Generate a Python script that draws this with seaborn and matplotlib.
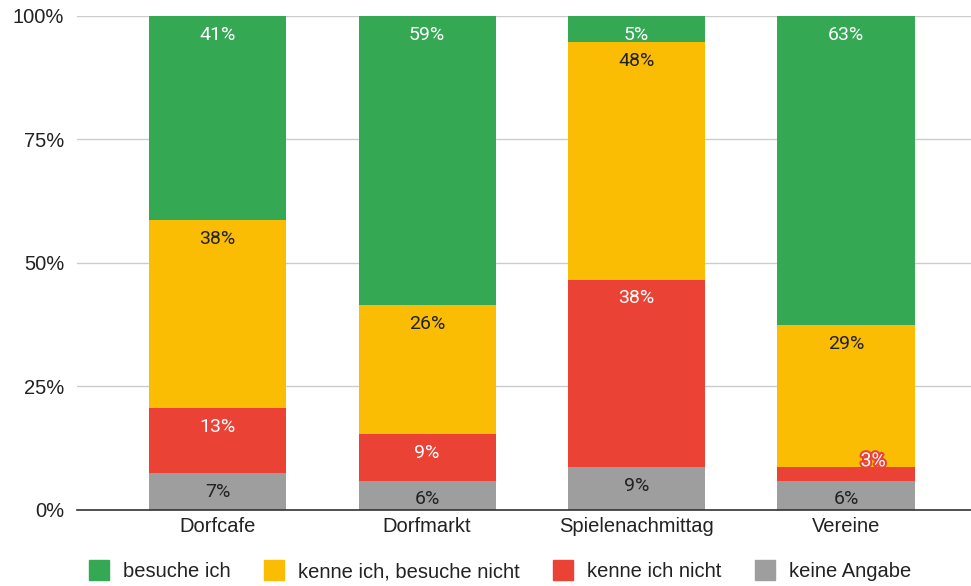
import matplotlib.pyplot as plt
import matplotlib.patheffects as pe
from matplotlib.lines import Line2D
import numpy as np
import seaborn as sns

# Data (percent of respondents per offer)
categories = ["Dorfcafe", "Dorfmarkt", "Spielenachmittag", "Vereine"]
series = ["besuche ich", "kenne ich, besuche nicht", "kenne ich nicht", "keine Angabe"]
besuche_ich = [41.4, 58.6, 5.4, 62.6]
kenne_besuche_nicht = [38.0, 26.1, 48.0, 28.7]
kenne_nicht = [13.2, 9.4, 37.9, 2.8]
keine_angabe = [7.4, 5.9, 8.7, 5.9]
y_ticks = [0, 25, 50, 75, 100]

colors = {"besuche ich": "#34a853", "kenne ich, besuche nicht": "#fbbc04",
          "kenne ich nicht": "#ea4335", "keine Angabe": "#9e9e9e"}
label_colors = {"besuche ich": "white", "kenne ich, besuche nicht": "#222222",
                "kenne ich nicht": "white", "keine Angabe": "#222222"}

sns.set_style("white")
plt.rcParams['font.family'] = ['Liberation Sans', 'DejaVu Sans']

fig = plt.figure(figsize=(9.71, 5.86), dpi=100)
ax = fig.add_axes([0.079, 0.130, 0.921, 0.843])

# stacking from bottom: keine Angabe, kenne nicht, kenne/besuche nicht, besuche ich
stack = [("keine Angabe", keine_angabe), ("kenne ich nicht", kenne_nicht),
         ("kenne ich, besuche nicht", kenne_besuche_nicht), ("besuche ich", besuche_ich)]
bottoms = np.zeros(len(categories))
tops = {}
for name, vals in stack:
    tops[name] = bottoms + np.array(vals)
    bottoms = tops[name]

# draw cumulative bars back to front so they look stacked
for name, vals in reversed(stack):
    sns.barplot(x=categories, y=tops[name], color=colors[name], saturation=1,
                width=0.655, ax=ax, zorder=2, linewidth=0)

# labels near the top of each segment
for name, vals in stack:
    for i, v in enumerate(vals):
        top = tops[name][i]
        if v < 5:
            # too thin: label sits above the segment with an outline
            ax.annotate(f"{v:.0f}%", (i + 0.13, top), xytext=(0, 4), textcoords="offset points",
                        ha="center", va="center", fontsize=14, color="white", zorder=5,
                        family=["Roboto", "DejaVu Sans"],
                        path_effects=[pe.withStroke(linewidth=3, foreground=colors[name])])
        else:
            ax.annotate(f"{v:.0f}%", (i, top), xytext=(0, -13.5), textcoords="offset points",
                        ha="center", va="center", fontsize=14, color=label_colors[name], zorder=5,
                        family=["Roboto", "DejaVu Sans"])

ax.set_ylim(0, 100)
ax.set_xlim(-0.673, 3.597)
ax.set_yticks(y_ticks)
ax.set_yticklabels([f"{t}%" for t in y_ticks])
ax.yaxis.grid(True, color="#cccccc", linewidth=1, zorder=0)
ax.set_axisbelow(True)
for s in ["top", "right", "left"]:
    ax.spines[s].set_visible(False)
ax.spines["bottom"].set_color("#333333")
ax.spines["bottom"].set_linewidth(1.2)
ax.spines["bottom"].set_zorder(4)
ax.tick_params(axis="both", length=0, labelsize=14.5, colors="#222222", pad=5)
ax.tick_params(axis="y", pad=9)
ax.set_xlabel("")
ax.set_ylabel("")

handles = [Line2D([], [], marker="s", linestyle="", markersize=15, color=colors[n]) for n in series]
fig.legend(handles, series, loc="center", bbox_to_anchor=(0.515, 0.024), ncol=4, frameon=False,
           fontsize=14.5, handletextpad=0.7, columnspacing=1.65, handlelength=1.0,
           labelcolor="#222222")

fig.savefig("out.png", dpi=100)
